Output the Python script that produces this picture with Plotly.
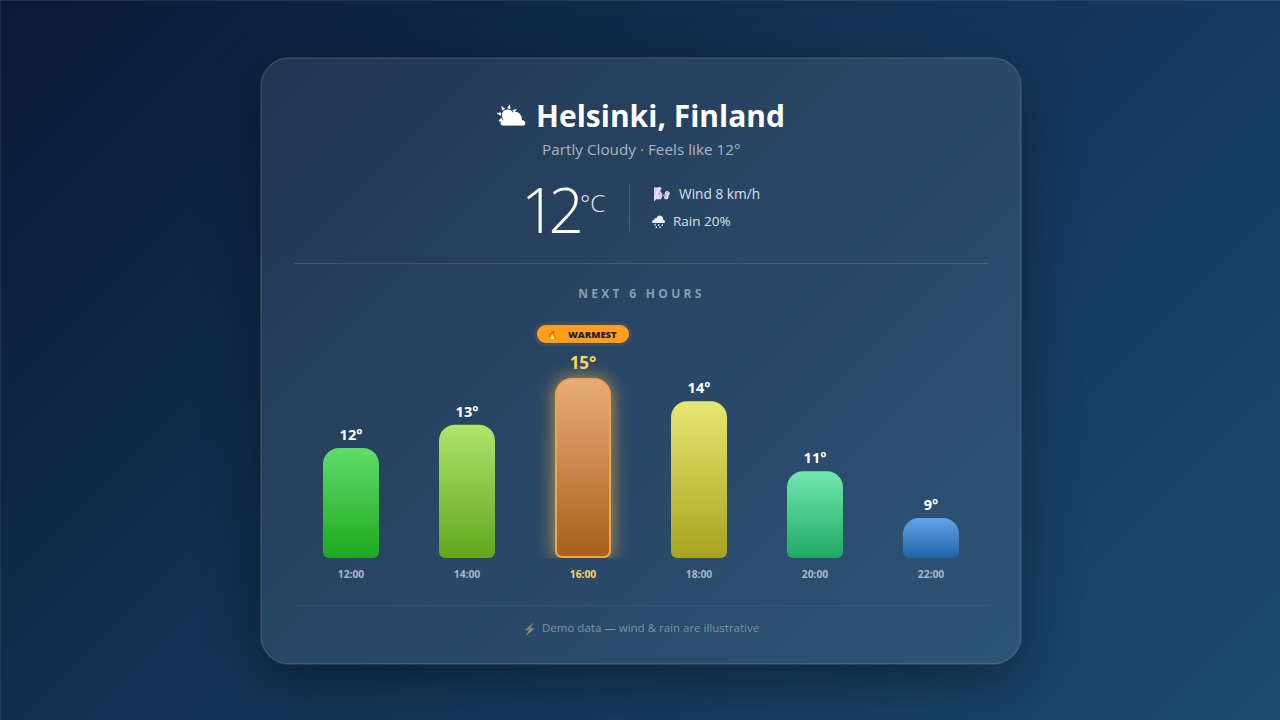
import base64
import json
import plotly.graph_objects as go

W, H = 1280, 720
FONT = "Open Sans"

# chart data
hours = ["12:00", "14:00", "16:00", "18:00", "20:00", "22:00"]
temps = [12, 13, 15, 14, 11, 9]
top_colors = ["#5fdc6a", "#aee56a", "#e8ad78", "#e8e672", "#72e8b0", "#64a4e8"]
bottom_colors = ["#1fa81f", "#62a51e", "#a85f1e", "#a8a31e", "#1fa864", "#1f64a8"]
mid_colors = ["#3fc244", "#88c544", "#c8864b", "#c8c448", "#48c88a", "#4184c8"]
warmest = temps.index(max(temps))
axis_floor = 7.2857
axis_ceil = 17.2857


def px(x):
    return x / W


def py(y):
    return 1 - y / H


def rrect(x0, y0, x1, y1, r_top, r_bottom=None):
    '''Rounded rectangle as an svg path in paper coordinates, given in page pixels'''
    if r_bottom is None:
        r_bottom = r_top
    k = 0.45
    pts = [
        ("M", (x0 + r_top, y0)), ("L", (x1 - r_top, y0)),
        ("C", (x1 - r_top * k, y0), (x1, y0 + r_top * k), (x1, y0 + r_top)),
        ("L", (x1, y1 - r_bottom)),
        ("C", (x1, y1 - r_bottom * k), (x1 - r_bottom * k, y1), (x1 - r_bottom, y1)),
        ("L", (x0 + r_bottom, y1)),
        ("C", (x0 + r_bottom * k, y1), (x0, y1 - r_bottom * k), (x0, y1 - r_bottom)),
        ("L", (x0, y0 + r_top)),
        ("C", (x0, y0 + r_top * k), (x0 + r_top * k, y0), (x0 + r_top, y0)),
    ]
    out = []
    for p in pts:
        coords = " ".join(f"{px(a):.5f},{py(b):.5f}" for a, b in p[1:])
        out.append(p[0] + " " + coords)
    return " ".join(out) + " Z"


def label(x, y, text, size, color, weight=400, anchor="center", family=FONT):
    return dict(x=px(x), y=py(y), xref="paper", yref="paper", text=text, showarrow=False,
                xanchor=anchor, yanchor="middle",
                font=dict(family=family, size=size, color=color, weight=weight))


# page background and the card shadow go in one svg image
CARD = (261, 58, 1021, 664)
background = f'''<svg xmlns="http://www.w3.org/2000/svg" width="{W}" height="{H}">
<defs><linearGradient id="bg" gradientUnits="userSpaceOnUse" x1="140" y1="-140" x2="1140" y2="860">
<stop offset="0" stop-color="#0a1a33"/><stop offset="0.5" stop-color="#143558"/><stop offset="1" stop-color="#1c4a70"/></linearGradient>
<filter id="blur" x="-30%" y="-30%" width="160%" height="160%"><feGaussianBlur stdDeviation="30"/></filter></defs>
<rect width="{W}" height="{H}" fill="url(#bg)"/>
<rect x="{CARD[0]}" y="{CARD[1] + 20}" width="{CARD[2] - CARD[0]}" height="{CARD[3] - CARD[1]}" rx="28" fill="#000" opacity="0.38" filter="url(#blur)"/>
<rect x="{CARD[0]}" y="{CARD[1]}" width="{CARD[2] - CARD[0]}" height="{CARD[3] - CARD[1]}" rx="28" fill="url(#bg)"/>
</svg>'''
bg_source = "data:image/svg+xml;base64," + base64.b64encode(background.encode()).decode()

shapes = [
    # hairline along the top and left edge of the page
    dict(type="line", xref="paper", yref="paper", layer="below", x0=0, x1=1, y0=py(0.5), y1=py(0.5),
         line=dict(color="rgba(255,255,255,0.08)", width=1)),
    dict(type="line", xref="paper", yref="paper", layer="below", x0=px(0.5), x1=px(0.5), y0=0, y1=1,
         line=dict(color="rgba(255,255,255,0.08)", width=1)),
    # card
    dict(type="path", path=rrect(*CARD, 28), xref="paper", yref="paper", layer="below",
         fillcolor="rgba(255,255,255,0.09)", line=dict(color="rgba(255,255,255,0.14)", width=1.5)),
    # dividers
    dict(type="line", xref="paper", yref="paper", layer="below", x0=px(294), x1=px(988), y0=py(263.5), y1=py(263.5),
         line=dict(color="rgba(255,255,255,0.13)", width=1)),
    dict(type="line", xref="paper", yref="paper", layer="below", x0=px(294), x1=px(988), y0=py(605.5), y1=py(605.5),
         line=dict(color="rgba(255,255,255,0.06)", width=1)),
    dict(type="line", xref="paper", yref="paper", layer="below", x0=px(629.5), x1=px(629.5), y0=py(183), y1=py(231),
         line=dict(color="rgba(255,255,255,0.15)", width=1)),
    # warmest pill
    dict(type="path", path=rrect(534, 322, 632, 346, 12), xref="paper", yref="paper", layer="below",
         fillcolor="rgba(255,160,40,0.10)", line_width=0),
    dict(type="path", path=rrect(537, 325, 629, 343, 9), xref="paper", yref="paper", layer="below",
         fillcolor="#ff9d1e", line_width=0),
]

annotations = [
    label(511, 115, "⛅", 26, "#ffffff"),
    label(660, 116, "Helsinki, Finland", 30, "#ffffff", 700),
    label(641, 149, "Partly Cloudy · Feels like 12°", 15.3, "#a9b5c3"),
    label(548, 209, "12", 62, "#ffffff", 300),
    label(592, 202, "°C", 24, "#e8edf2", 300),
    label(662, 194, "🌬️", 14, "#ffffff"),
    label(676.5, 194, "Wind 8 km/h", 13.7, "#dbe2ea", 400, "left"),
    label(658, 221, "🌧️", 12, "#ffffff"),
    label(671, 221, "Rain 20%", 13.5, "#dbe2ea", 400, "left"),
    label(641, 293, "NEXT 6 HOURS", 12, "#8c9db1", 700),
    label(552, 334, "🔥", 8.5, "#ffffff"),
    label(592, 334.5, "WARMEST", 9.5, "#241c2c", 800),
    label(650, 627.5, "Demo data — wind & rain are illustrative", 11.5, "#7e92a8"),
    label(530, 628, "⚡", 11, "#ffffff"),
]

# hour labels, the warmest hour is picked out in yellow
tick_labels = [f'<span style="color:#ffd45c">{h}</span>' if i == warmest else h for i, h in enumerate(hours)]

fig = go.Figure()
fig.add_trace(go.Bar(
    x=hours,
    y=[t - axis_floor for t in temps],
    base=axis_floor,
    width=56 / 116,
    marker=dict(color=mid_colors, cornerradius=16,
                line=dict(width=[2 if i == warmest else 0 for i in range(len(temps))], color="#eda54f")),
    text=[f"{t}°" for t in temps],
    textposition="outside",
    constraintext="none",
    cliponaxis=False,
    textfont=dict(family=FONT, weight=700,
                  size=[17 if i == warmest else 14.5 for i in range(len(temps))],
                  color=["#ffd45c" if i == warmest else "#ffffff" for i in range(len(temps))]),
    hovertemplate="%{x}: %{text}<extra></extra>",
))

fig.update_layout(
    width=W,
    height=H,
    margin=dict(l=0, r=0, t=0, b=0),
    paper_bgcolor="rgba(0,0,0,0)",
    plot_bgcolor="rgba(0,0,0,0)",
    showlegend=False,
    images=[dict(source=bg_source, xref="paper", yref="paper", x=0, y=1, sizex=1, sizey=1,
                 xanchor="left", yanchor="top", sizing="stretch", layer="below")],
    shapes=shapes,
    annotations=annotations,
)
fig.update_xaxes(domain=[px(293), px(989)], tickmode="array", tickvals=hours, ticktext=tick_labels,
                 ticks="", showgrid=False, zeroline=False, showline=False, ticklabelstandoff=9,
                 tickfont=dict(family=FONT, size=10.3, color="#a9b8c8", weight=700))
fig.update_yaxes(domain=[py(558), py(324.667)], range=[axis_floor, axis_ceil], visible=False)

# gradients, lower corner rounding and letter spacing are not reachable from the layout
post_script = '''
document.body.style.margin = '0';
document.body.style.overflow = 'hidden';
var tops = TOPS, bottoms = BOTTOMS, warm = WARM;
var svg = document.querySelector('.main-svg');
var defs = svg.querySelector('defs');
document.querySelectorAll('.barlayer .point path').forEach(function (p, i) {
    var g = document.createElementNS('http://www.w3.org/2000/svg', 'linearGradient');
    g.setAttribute('id', 'bar-grad-' + i);
    g.setAttribute('x1', '0'); g.setAttribute('y1', '0'); g.setAttribute('x2', '0'); g.setAttribute('y2', '1');
    [[0, tops[i]], [1, bottoms[i]]].forEach(function (s) {
        var st = document.createElementNS('http://www.w3.org/2000/svg', 'stop');
        st.setAttribute('offset', s[0]); st.setAttribute('stop-color', s[1]);
        g.appendChild(st);
    });
    defs.appendChild(g);
    var b = p.getBBox(), t = 16, r = 6, inset = i === warm ? 1 : 0;
    var x0 = b.x + inset, x1 = b.x + b.width - inset, y0 = b.y + inset, y1 = b.y + b.height - inset;
    p.setAttribute('d', 'M' + x0 + ',' + (y0 + t) + 'A' + t + ',' + t + ' 0 0 1 ' + (x0 + t) + ',' + y0 +
        'H' + (x1 - t) + 'A' + t + ',' + t + ' 0 0 1 ' + x1 + ',' + (y0 + t) +
        'V' + (y1 - r) + 'A' + r + ',' + r + ' 0 0 1 ' + (x1 - r) + ',' + y1 +
        'H' + (x0 + r) + 'A' + r + ',' + r + ' 0 0 1 ' + x0 + ',' + (y1 - r) + 'Z');
    p.style.fill = 'url(#bar-grad-' + i + ')';
    if (i === warm) p.style.filter = 'drop-shadow(0 0 9px rgba(255,190,70,0.7))';
});
document.querySelectorAll('.barlayer .bartext').forEach(function (t) {
    t.style.translate = '0 -1px';
});
document.querySelectorAll('.annotation-text').forEach(function (t) {
    var s = t.textContent;
    if (s === 'NEXT 6 HOURS') t.style.letterSpacing = '3.3px';
    if (s === 'WARMEST') t.style.letterSpacing = '2.4px';
    if (s === '12') t.style.letterSpacing = '-8px';
    // the emoji are monochrome or muted in the original
    if (s.indexOf('\\u26c5') === 0) t.style.filter = 'brightness(0) invert(1)';
    if (s.indexOf('\\ud83c\\udf2c') === 0) t.style.filter = 'hue-rotate(60deg) saturate(0.45)';
    if (s.indexOf('\\ud83c\\udf27') === 0) t.style.filter = 'brightness(0) invert(0.92)';
    if (s.indexOf('\\u26a1') === 0) t.style.filter = 'sepia(1) saturate(3) hue-rotate(-25deg) opacity(0.45)';
});
'''
post_script = (post_script.replace("TOPS", json.dumps(top_colors))
               .replace("BOTTOMS", json.dumps(bottom_colors))
               .replace("WARM", str(warmest)))

fig.write_html("out.html", post_script=post_script, config=dict(displayModeBar=False))
